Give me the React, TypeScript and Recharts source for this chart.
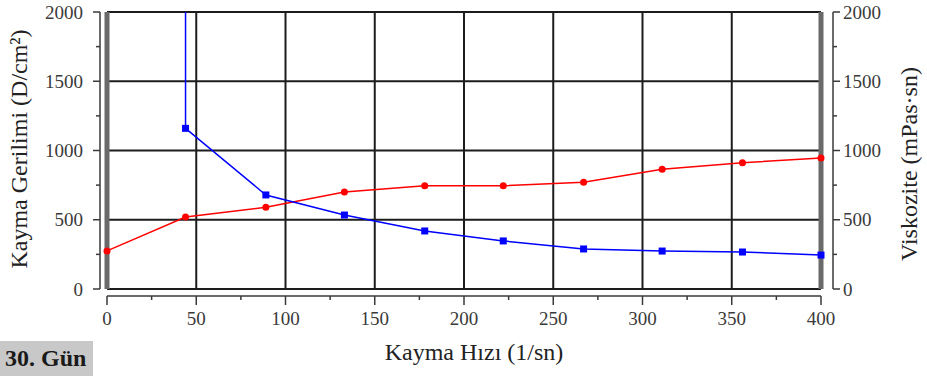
import { LineChart, Line, XAxis, YAxis, ReferenceLine } from 'recharts';

// shear rate (1/sn)
const shearRate = [0, 44, 89, 133, 178, 222, 267, 311, 356, 400];
// shear stress (D/cm²), left axis
const shearStress = [275, 520, 590, 700, 745, 745, 770, 865, 912, 945];
// viscosity (mPas·sn), right axis — undefined at zero shear
const viscosity = [null, 1160, 679, 534, 419, 347, 289, 274, 267, 245];
// the viscosity curve leaves the top of the chart above its first point
const viscosityOffScale = 5000;

const xTicks = [0, 25, 50, 75, 100, 125, 150, 175, 200, 225, 250, 275, 300, 325, 350, 375, 400];
const yTicks = [0, 250, 500, 750, 1000, 1250, 1500, 1750, 2000];
const xGrid = [50, 100, 150, 200, 250, 300, 350];
const yGrid = [500, 1000, 1500];

const W = 927;
const H = 376;
const PAD_L = 7;
const PAD_R = 12;
const PAD_B = 7;
const PLOT_W = 733 - PAD_L - PAD_R;
const PLOT_H = 284 - PAD_B;
// axis lines sit a few px away from the frame, expressed in data units
const xAxisLineAt = (-PAD_B * 2000) / PLOT_H;
const leftLineAt = (-PAD_L * 400) / PLOT_W;
const rightLineAt = 400 + (PAD_R * 400) / PLOT_W;

const stressData = shearRate.map((x, i) => ({ x, v: shearStress[i] }));
const viscData = [
  { x: shearRate[1], v: viscosityOffScale, off: true },
  ...shearRate.map((x, i) => ({ x, v: viscosity[i] })).filter((d) => d.v != null),
];

const FONT = '"Liberation Serif", "Times New Roman", serif';
const TICK_COLOR = '#3a3a3a';
const GRID = '#1c1c1c';

function LeftTick({ x, y, payload }: any) {
  const major = payload.value % 500 === 0;
  return (
    <g>
      <line x1={x} x2={x - (major ? 7 : 4)} y1={y} y2={y} stroke={TICK_COLOR} strokeWidth={1.5} />
      {major && (
        <text x={x - 17} y={y} dy="0.35em" textAnchor="end" fontFamily={FONT} fontSize={19} fill={TICK_COLOR}>
          {payload.value}
        </text>
      )}
    </g>
  );
}

function RightTick({ x, y, payload }: any) {
  const major = payload.value % 500 === 0;
  return (
    <g>
      <line x1={x} x2={x + (major ? 7 : 4)} y1={y} y2={y} stroke={TICK_COLOR} strokeWidth={1.5} />
      {major && (
        <text x={x + 10} y={y} dy="0.35em" textAnchor="start" fontFamily={FONT} fontSize={19} fill={TICK_COLOR}>
          {payload.value}
        </text>
      )}
    </g>
  );
}

function BottomTick({ x, y, payload }: any) {
  const major = payload.value % 50 === 0;
  return (
    <g>
      <line x1={x} x2={x} y1={y} y2={y + (major ? 9 : 4)} stroke={TICK_COLOR} strokeWidth={1.5} />
      {major && (
        <text x={x} y={y + 29} textAnchor="middle" fontFamily={FONT} fontSize={19} fill={TICK_COLOR}>
          {payload.value}
        </text>
      )}
    </g>
  );
}

function BlueSquare(props: any) {
  const { cx, cy, payload, index } = props;
  if (payload.off) return <g key={`b${index}`} />;
  return <rect key={`b${index}`} x={cx - 3.5} y={cy - 3.5} width={7} height={7} fill="#0000ff" />;
}

function RedDot(props: any) {
  const { cx, cy, index } = props;
  return <circle key={`r${index}`} cx={cx} cy={cy} r={3.5} fill="#ff0000" />;
}

const titleStyle = { fontFamily: FONT, fontSize: 24, fill: '#222' };

export default function App() {
  return (
    <div style={{ position: 'absolute', left: 0, top: 0, width: W, height: H, background: '#fff' }}>
      <LineChart width={W} height={H} margin={{ top: 12, right: 0, bottom: 0, left: 0 }}>
        <XAxis
          type="number"
          dataKey="x"
          domain={[0, 400]}
          ticks={xTicks}
          interval={0}
          padding={{ left: PAD_L, right: PAD_R }}
          height={80}
          axisLine={false}
          tickLine={false}
          tickSize={0}
          tickMargin={0}
          tick={<BottomTick />}
          label={{
            content: () => (
              <text x={474} y={360} textAnchor="middle" {...titleStyle}>
                Kayma Hızı (1/sn)
              </text>
            ),
          }}
        />
        <YAxis
          yAxisId="left"
          type="number"
          domain={[0, 2000]}
          ticks={yTicks}
          interval={0}
          width={100}
          padding={{ top: 0, bottom: PAD_B }}
          axisLine={false}
          tickLine={false}
          tickSize={0}
          tickMargin={0}
          tick={<LeftTick />}
          allowDataOverflow
          label={{
            content: () => (
              <text transform="translate(27,149) rotate(-90)" textAnchor="middle" {...titleStyle}>
                Kayma Gerilimi (D/cm²)
              </text>
            ),
          }}
        />
        <YAxis
          yAxisId="right"
          orientation="right"
          type="number"
          domain={[0, 2000]}
          ticks={yTicks}
          interval={0}
          width={94}
          padding={{ top: 0, bottom: PAD_B }}
          axisLine={false}
          tickLine={false}
          tickSize={0}
          tickMargin={0}
          tick={<RightTick />}
          allowDataOverflow
          label={{
            content: () => (
              <text transform="translate(917,164) rotate(-90)" textAnchor="middle" {...titleStyle}>
                Viskozite (mPas·sn)
              </text>
            ),
          }}
        />

        {xGrid.map((g) => (
          <ReferenceLine
            key={`gx${g}`}
            yAxisId="left"
            segment={[{ x: g, y: 0 }, { x: g, y: 2000 }]}
            stroke={GRID}
            strokeWidth={2}
          />
        ))}
        {[0, ...yGrid, 2000].map((g) => (
          <ReferenceLine
            key={`gy${g}`}
            yAxisId="left"
            segment={[{ x: 0, y: g }, { x: 400, y: g }]}
            stroke={GRID}
            strokeWidth={2}
          />
        ))}
        {[0, 400].map((g) => (
          <ReferenceLine
            key={`edge${g}`}
            yAxisId="left"
            segment={[{ x: g, y: 0 }, { x: g, y: 2000 }]}
            stroke="#6a6a6a"
            strokeWidth={5}
          />
        ))}

        {/* detached axis lines */}
        <ReferenceLine
          yAxisId="left"
          ifOverflow="visible"
          segment={[{ x: 0, y: xAxisLineAt }, { x: 400, y: xAxisLineAt }]}
          stroke={TICK_COLOR}
          strokeWidth={1.5}
        />
        <ReferenceLine
          yAxisId="left"
          ifOverflow="visible"
          segment={[{ x: leftLineAt, y: 0 }, { x: leftLineAt, y: 2000 }]}
          stroke={TICK_COLOR}
          strokeWidth={1.5}
        />
        <ReferenceLine
          yAxisId="left"
          ifOverflow="visible"
          segment={[{ x: rightLineAt, y: 0 }, { x: rightLineAt, y: 2000 }]}
          stroke={TICK_COLOR}
          strokeWidth={1.5}
        />

        <Line
          yAxisId="left"
          data={stressData}
          dataKey="v"
          type="linear"
          stroke="#ff0000"
          strokeWidth={1.5}
          dot={RedDot}
          activeDot={false}
          isAnimationActive={false}
        />
        <Line
          yAxisId="right"
          data={viscData}
          dataKey="v"
          type="linear"
          stroke="#0000ff"
          strokeWidth={1.5}
          dot={BlueSquare}
          activeDot={false}
          isAnimationActive={false}
        />
      </LineChart>
      <div
        style={{
          position: 'absolute',
          left: 0,
          top: 341,
          width: 93,
          height: 35,
          background: '#c8c8c8',
          fontFamily: FONT,
          fontWeight: 'bold',
          fontSize: 24,
          lineHeight: '35px',
          paddingLeft: 5,
          boxSizing: 'border-box',
          color: '#1a1a1a',
        }}
      >
        30. Gün
      </div>
    </div>
  );
}
